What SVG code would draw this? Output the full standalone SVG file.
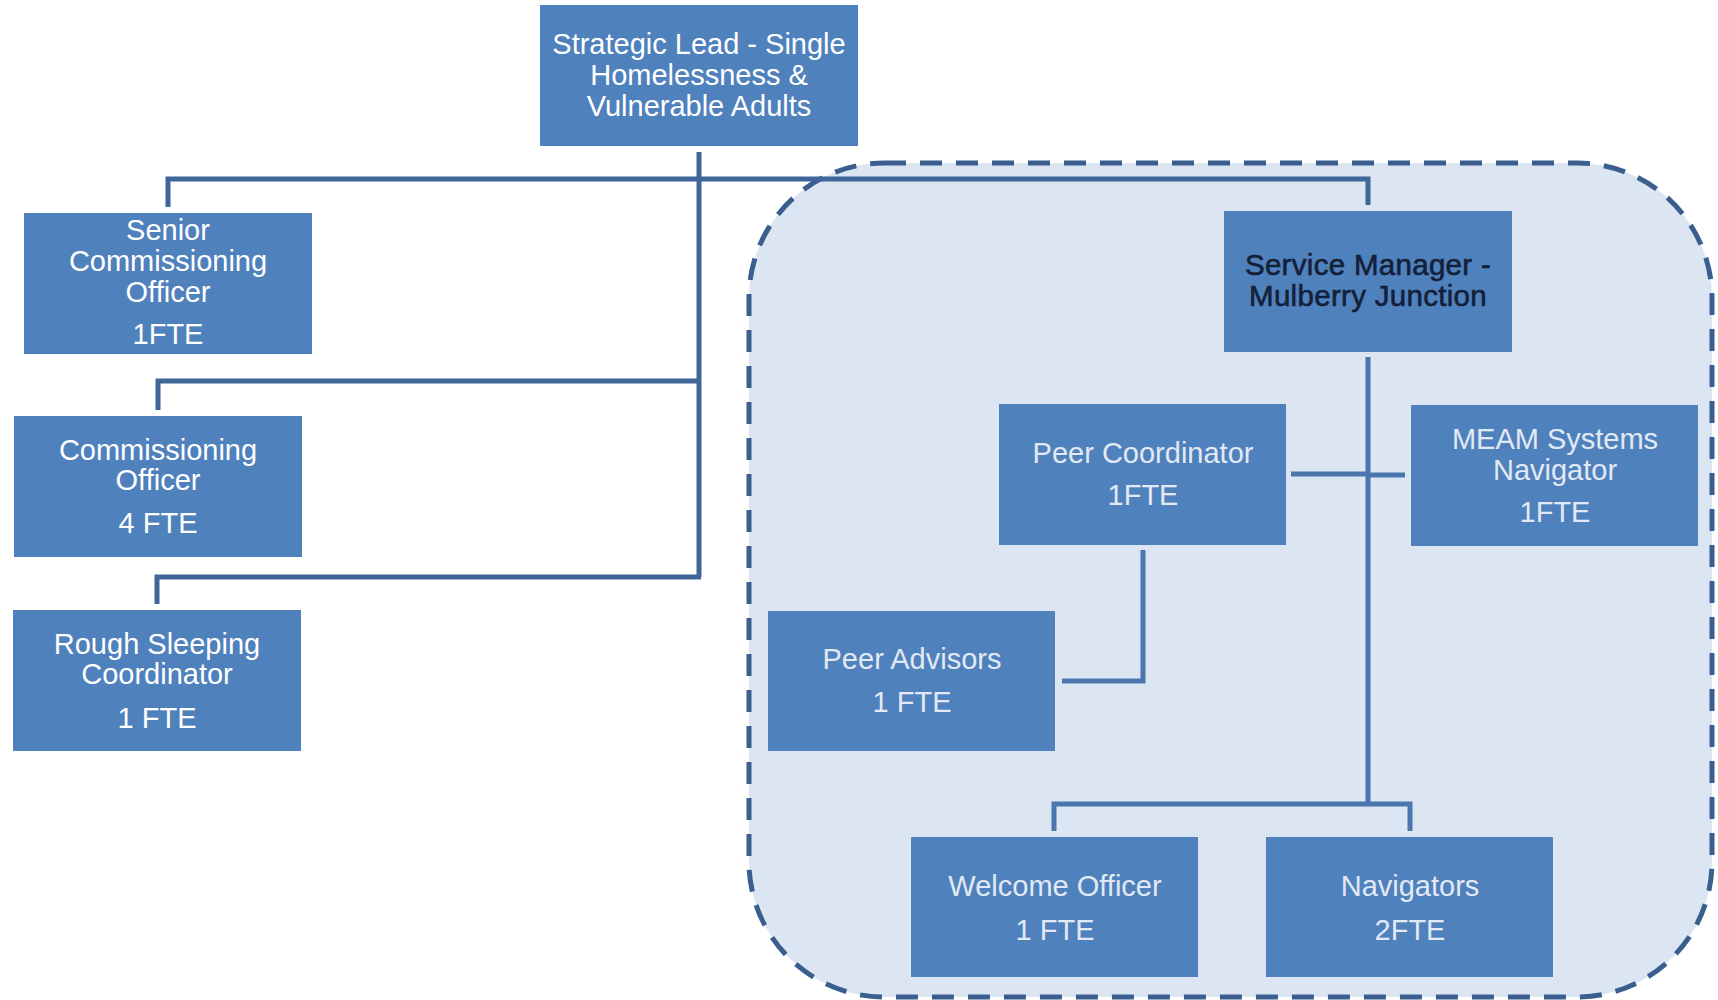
<svg xmlns="http://www.w3.org/2000/svg" width="1718" height="1000" viewBox="0 0 1718 1000">
  <style>
    .box { fill: #4f81bd; }
    .lbl { font-family: "Liberation Sans", Arial, sans-serif; font-size: 29px; text-anchor: middle; }
    .w { fill: #ffffff; }
    .lt { fill: #e2e9f4; }
    .dk { fill: #142038; stroke: #142038; stroke-width: 0.6px; font-size: 29.5px; letter-spacing: 0.3px; }
    .outer { fill: none; stroke: #3f6699; stroke-width: 5; }
    .inner { fill: none; stroke: #4a76ae; stroke-width: 5; }
  </style>
  <rect width="1718" height="1000" fill="#ffffff"/>

  <!-- Mulberry Junction service area -->
  <g id="service-area">
    <rect x="749" y="163" width="963" height="834" rx="135" ry="135" fill="#dce6f2" stroke="#3a5e8e" stroke-width="5" stroke-dasharray="22 14"/>
  </g>

  <!-- reporting lines -->
  <g id="connectors">
    <path class="outer" d="M699,152 V577"/>
    <path class="outer" d="M168,207 V179 H1368 V205"/>
    <path class="outer" d="M158,410 V381 H701"/>
    <path class="outer" d="M157,604 V577 H701"/>
    <path class="inner" d="M1368,357 V806"/>
    <path class="inner" d="M1054,831 V804 H1410 V831"/>
    <path class="inner" d="M1291,474 H1368"/>
    <path class="inner" d="M1368,475 H1405"/>
    <path class="inner" d="M1143,550 V681 H1062"/>
  </g>

  <g id="strategic-lead">
    <rect class="box" x="540" y="5" width="318" height="141"/>
    <text class="lbl w" x="699" y="54">Strategic Lead - Single</text>
    <text class="lbl w" x="699" y="85">Homelessness &amp;</text>
    <text class="lbl w" x="699" y="116">Vulnerable Adults</text>
  </g>

  <g id="senior-commissioning-officer">
    <rect class="box" x="24" y="213" width="288" height="141"/>
    <text class="lbl w" x="168" y="240">Senior</text>
    <text class="lbl w" x="168" y="271">Commissioning</text>
    <text class="lbl w" x="168" y="302">Officer</text>
    <text class="lbl w" x="168" y="344">1FTE</text>
  </g>

  <g id="commissioning-officer">
    <rect class="box" x="14" y="416" width="288" height="141"/>
    <text class="lbl w" x="158" y="460">Commissioning</text>
    <text class="lbl w" x="158" y="490">Officer</text>
    <text class="lbl w" x="158" y="533">4 FTE</text>
  </g>

  <g id="rough-sleeping-coordinator">
    <rect class="box" x="13" y="610" width="288" height="141"/>
    <text class="lbl w" x="157" y="654">Rough Sleeping</text>
    <text class="lbl w" x="157" y="684">Coordinator</text>
    <text class="lbl w" x="157" y="728">1 FTE</text>
  </g>

  <g id="service-manager">
    <rect class="box" x="1224" y="211" width="288" height="141"/>
    <text class="lbl dk" x="1368" y="275">Service Manager -</text>
    <text class="lbl dk" x="1368" y="306">Mulberry Junction</text>
  </g>

  <g id="peer-coordinator">
    <rect class="box" x="999" y="404" width="287" height="141"/>
    <text class="lbl lt" x="1143" y="463">Peer Coordinator</text>
    <text class="lbl lt" x="1143" y="505">1FTE</text>
  </g>

  <g id="meam-systems-navigator">
    <rect class="box" x="1411" y="405" width="287" height="141"/>
    <text class="lbl lt" x="1555" y="449">MEAM Systems</text>
    <text class="lbl lt" x="1555" y="480">Navigator</text>
    <text class="lbl lt" x="1555" y="522">1FTE</text>
  </g>

  <g id="peer-advisors">
    <rect class="box" x="768" y="611" width="287" height="140"/>
    <text class="lbl lt" x="912" y="669">Peer Advisors</text>
    <text class="lbl lt" x="912" y="712">1 FTE</text>
  </g>

  <g id="welcome-officer">
    <rect class="box" x="911" y="837" width="287" height="140"/>
    <text class="lbl lt" x="1055" y="896">Welcome Officer</text>
    <text class="lbl lt" x="1055" y="940">1 FTE</text>
  </g>

  <g id="navigators">
    <rect class="box" x="1266" y="837" width="287" height="140"/>
    <text class="lbl lt" x="1410" y="896">Navigators</text>
    <text class="lbl lt" x="1410" y="940">2FTE</text>
  </g>
</svg>
